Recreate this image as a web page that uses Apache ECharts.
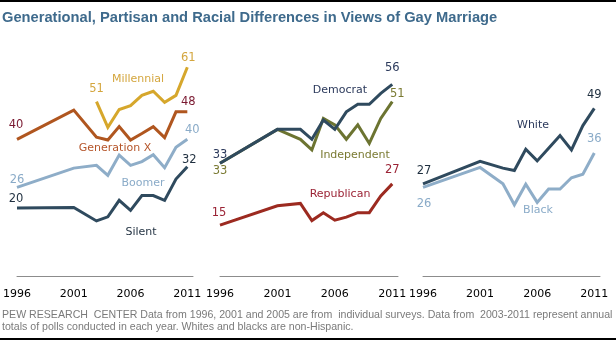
<!DOCTYPE html>
<html><head><meta charset="utf-8">
<script src="https://cdn.jsdelivr.net/npm/echarts@6/dist/echarts.min.js"></script>
<style>html,body{margin:0;padding:0;background:#fff}#c{width:616px;height:341px}</style>
</head><body><div id="c"></div>
<script>
const years = [1996, 2001, 2003, 2004, 2005, 2006, 2007, 2008, 2009, 2010, 2011];
const tickYears = [1996, 2001, 2006, 2011];
// Generational
const millennial = [null, null, 51, 43.5, 48.7, 49.8, 52.8, 54, 50.8, 52.8, 61];
const genX = [40, 48.5, 40.6, 39.8, 43.7, 39.8, 41.7, 43.7, 40.5, 48, 48];
const boomer = [26, 31.6, 32.4, 29.5, 35.4, 32.4, 33.5, 35.5, 31.7, 37.7, 40];
const silent = [20, 20.1, 16.2, 17.4, 22.2, 19.3, 23.6, 23.6, 22.2, 28.4, 32];
// Partisan
const democrat = [33, 42.9, 42.9, 40, 45.6, 42.9, 48, 50.2, 50.2, 53.4, 56];
const independent = [33, 42.9, 40, 36.9, 46.1, 44.2, 40, 44.2, 38.8, 46.1, 51];
const republican = [15, 20.6, 21.3, 16.3, 18.6, 16.4, 17.3, 18.6, 18.6, 23.5, 27];
// Racial
const white = [27, 33.6, 31.6, 30.9, 37.1, 33.7, 37.4, 41.1, 36.9, 44, 49];
const black = [26, 31.8, 27, 20.9, 26.9, 21.6, 25.5, 25.5, 28.8, 29.8, 36];

const C = {
  gold: '#D6A72C', goldTxt: '#D4A63E',
  rust: '#B0561F', rustTxt: '#B5552A', maroon: '#7A1830',
  lblue: '#8EADC8', lblueTxt: '#8AABC8',
  slate: '#2F4A5E', slateTxt: '#1F2F3F', navy: '#2C3A5C',
  olive: '#6C7431', oliveTxt: '#7A7A32',
  red: '#9C2A20', redTxt: '#9B2335'
};
const FONT = 'DejaVu Sans';

function mkData(vals, first, last) {
  let fi = vals.findIndex(v => v !== null);
  let li = vals.length - 1;
  return years.map((y, i) => {
    const item = { value: [y, vals[i]] };
    let spec = null;
    if (i === fi && first) spec = first;
    if (i === li && last) spec = last;
    if (spec) {
      item.label = { show: true, position: 'inside', offset: spec[0], color: spec[1],
        fontFamily: FONT, fontSize: 11.5, formatter: p => Math.round(p.value[1]) };
    }
    return item;
  });
}
function line(name, g, vals, color, first, last) {
  return {
    type: 'line', name, xAxisIndex: g * 2, yAxisIndex: g,
    data: mkData(vals, first, last), connectNulls: false,
    symbol: 'circle', symbolSize: 0, showSymbol: true,
    lineStyle: { color, width: 3, cap: 'butt', join: 'miter' },
    itemStyle: { color },
    label: { show: false },
    emphasis: { disabled: true }, animation: false, silent: true, z: 3
  };
}
const grids = [
  { left: 17, width: 176, top: 36.4, height: 240.1 },
  { left: 220, width: 178, top: 36.4, height: 240.1 },
  { left: 423, width: 177, top: 36.4, height: 240.1 }
];
const xAxes = [], yAxes = [];
grids.forEach((g, i) => {
  xAxes.push({
    type: 'value', gridIndex: i, min: 1996, max: 2011.5, offset: 3.5,
    axisLine: { show: true, lineStyle: { color: '#8c8c8c', width: 1 } },
    axisTick: { show: false }, splitLine: { show: false },
    axisLabel: { show: true, customValues: tickYears, margin: 9, color: '#000',
      fontFamily: FONT, fontSize: 11, formatter: v => String(v), showMinLabel: true, showMaxLabel: true }
  });
  xAxes.push({ type: 'value', gridIndex: i, min: 1996, max: 2011.5, show: false });
  yAxes.push({ type: 'value', gridIndex: i, min: 0, max: 70, show: false, splitLine: { show: false } });
});
const series = [
  line('Millennial', 0, millennial, C.gold, [[0, -13], C.goldTxt], [[1, -9], C.goldTxt]),
  line('Generation X', 0, genX, C.rust, [[-1, -14], C.maroon], [[1, -10], C.maroon]),
  line('Boomer', 0, boomer, C.lblue, [[0, -7], C.lblueTxt], [[5, -9], C.lblueTxt]),
  line('Silent', 0, silent, C.slate, [[-1, -9], C.slateTxt], [[2, -7], C.slateTxt]),
  line('Independent', 1, independent, C.olive, [[0, 8], C.oliveTxt], [[5, -8], C.oliveTxt]),
  line('Democrat', 1, democrat, C.slate, [[0, -8], C.navy], [[0, -16], C.navy]),
  line('Republican', 1, republican, C.red, [[-1, -12], C.redTxt], [[0, -14], C.redTxt]),
  line('Black', 2, black, C.lblue, [[1, 17], C.lblueTxt], [[0, -14], C.lblueTxt]),
  line('White', 2, white, C.slate, [[1, -13], C.slateTxt], [[0, -13], C.slateTxt])
];
function nameText(t, x, y, color) {
  return { type: 'text', x, y, style: { text: t, fill: color, font: '11px "DejaVu Sans"', textAlign: 'center', textVerticalAlign: 'middle' }, silent: true };
}
const graphic = [
  { type: 'rect', shape: { x: 0, y: 0, width: 616, height: 2 }, style: { fill: '#000' }, silent: true },
  { type: 'rect', shape: { x: 0, y: 338, width: 616, height: 2 }, style: { fill: '#000' }, silent: true },
  { type: 'text', x: 2, y: 18, style: { text: 'Generational, Partisan and Racial Differences in Views of Gay Marriage',
      fill: '#3E6A8C', font: 'bold 14.7px "Liberation Sans"', textVerticalAlign: 'middle' }, silent: true },
  { type: 'text', x: 2, y: 315, style: { text: 'PEW RESEARCH  CENTER Data from 1996, 2001 and 2005 are from  individual surveys. Data from  2003-2011 represent annual',
      fill: '#7a7a7a', font: '10.6px "Liberation Sans"', textVerticalAlign: 'middle' }, silent: true },
  { type: 'text', x: 2, y: 327, style: { text: 'totals of polls conducted in each year. Whites and blacks are non-Hispanic.',
      fill: '#7a7a7a', font: '10.6px "Liberation Sans"', textVerticalAlign: 'middle' }, silent: true },
  nameText('Millennial', 138, 79.3, C.goldTxt),
  nameText('Generation X', 115, 148.3, C.rustTxt),
  nameText('Boomer', 143, 182.7, C.lblueTxt),
  nameText('Silent', 141, 231.7, C.slateTxt),
  nameText('Democrat', 340, 90, C.navy),
  nameText('Independent', 355, 155, C.oliveTxt),
  nameText('Republican', 340, 194, C.redTxt),
  nameText('White', 533, 125, C.navy),
  nameText('Black', 538, 210, C.lblueTxt)
];
const chart = echarts.init(document.getElementById('c'), null, { renderer: 'canvas' });
chart.setOption({
  animation: false, backgroundColor: '#fff',
  grid: grids, xAxis: xAxes, yAxis: yAxes, series, graphic
});
</script></body></html>
